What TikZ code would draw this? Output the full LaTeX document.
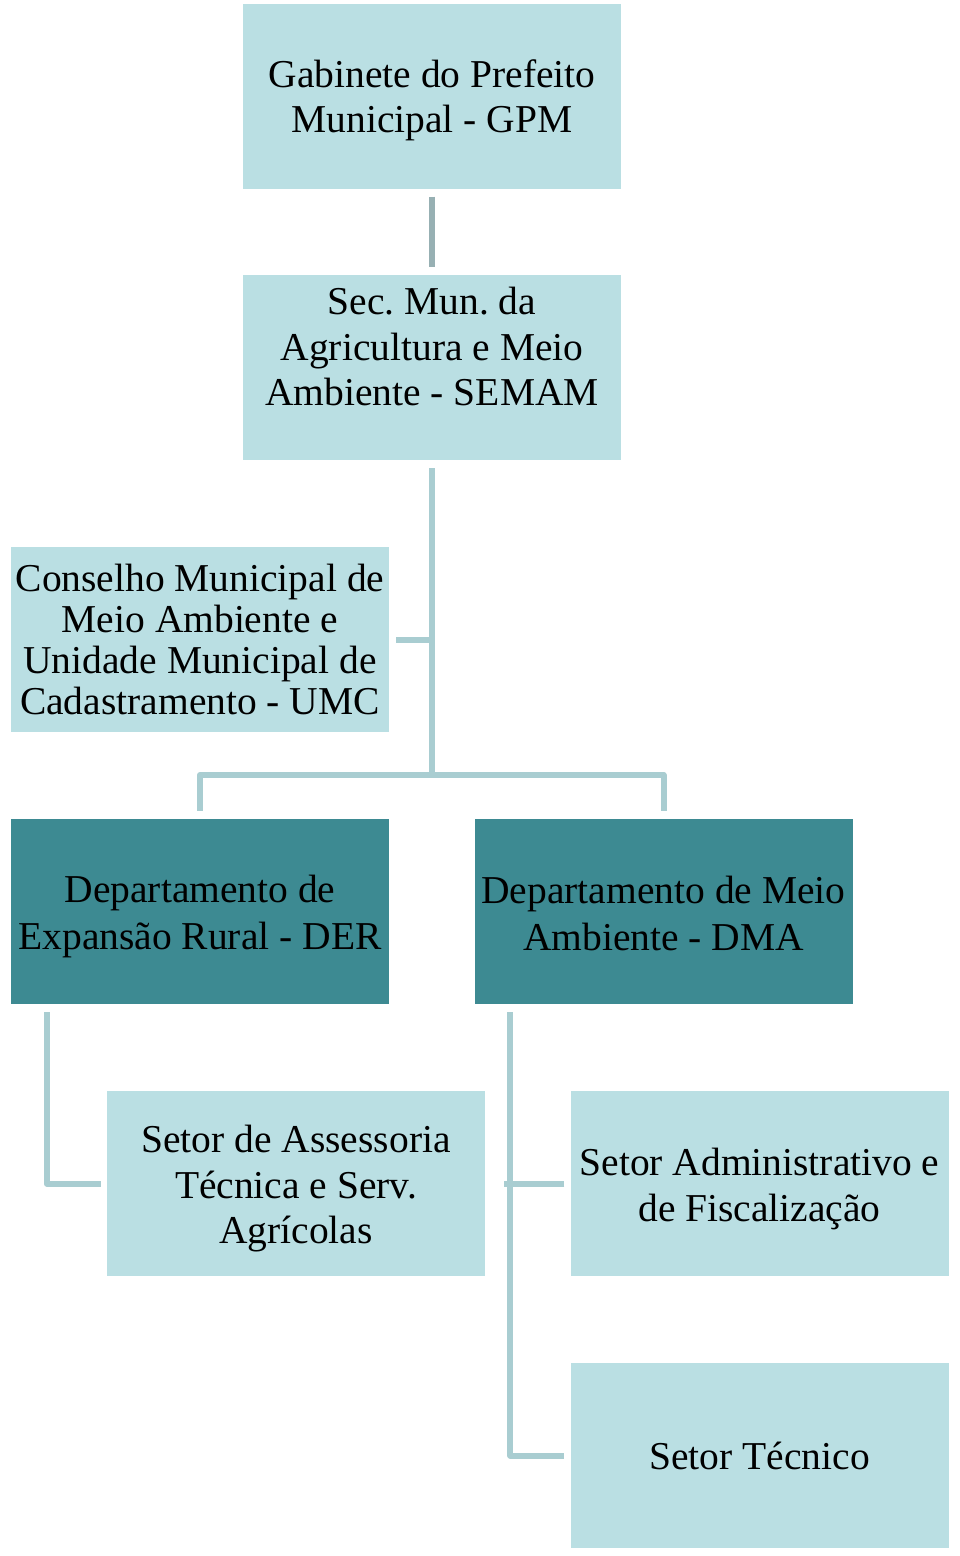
\documentclass[tikz,border=0pt]{standalone}
\usepackage{fontspec}
\setmainfont{Liberation Serif}
\frenchspacing
\definecolor{lightbox}{HTML}{BADFE3}
\definecolor{darkbox}{HTML}{3D8A92}
\definecolor{topline}{HTML}{97B0B3}
\definecolor{linecol}{HTML}{A9CDD1}
\begin{document}
\begin{tikzpicture}[x=1pt,y=-1pt,
  box/.style={draw=none, minimum width=378pt, minimum height=185pt, inner sep=0pt},
  lbox/.style={box, fill=lightbox},
  dbox/.style={box, fill=darkbox},
  txt/.style={inner sep=0pt, align=center, font=\fontsize{39.5}{45.5}\selectfont, text=black},
  conn/.style={draw=linecol, line width=6pt, line join=round},
  topconn/.style={draw=topline, line width=6pt}]
\useasboundingbox[fill=white] (0,0) rectangle (960,1556);
\node[lbox] (gpm) at (432,96) {};
\node[lbox] (semam) at (432,367.5) {};
\node[lbox] (umc) at (200,639.5) {};
\node[dbox] (der) at (200,911.5) {};
\node[dbox] (dma) at (663.5,911.5) {};
\node[lbox] (ass) at (296,1183.5) {};
\node[lbox] (adm) at (759.5,1183.5) {};
\node[lbox] (tec) at (759.5,1455.5) {};
\node[txt] (gpmt) at ([yshift=-4.5pt]gpm.center) {Gabinete do Prefeito\\Municipal - GPM};
\node[txt] (semamt) at ([yshift=21pt]semam.center) {Sec. Mun. da\\Agricultura e Meio\\Ambiente - SEMAM};
\node[txt, font=\fontsize{39.5}{41}\selectfont] (umct) at (umc.center) {Conselho Municipal de\\Meio Ambiente e\\Unidade Municipal de\\Cadastramento - UMC};
\node[txt, font=\fontsize{39.5}{47}\selectfont] (dert) at ([yshift=-5pt]der.center) {Departamento de\\Expansão Rural - DER};
\node[txt, font=\fontsize{39.5}{47}\selectfont] (dmat) at ([yshift=-2pt]dma.center) {Departamento de Meio\\Ambiente - DMA};
\node[txt] (asst) at ([yshift=-5.5pt]ass.center) {Setor de Assessoria\\Técnica e Serv.\\Agrícolas};
\node[txt] (admt) at ([yshift=-5.5pt]adm.center) {Setor Administrativo e\\de Fiscalização};
\node[txt] (tect) at (tec.center) {Setor Técnico};
\coordinate (hub) at (432,775);
\coordinate (derline) at ([xshift=36pt,yshift=-8pt]der.south west);
\coordinate (dmaline) at ([xshift=36pt,yshift=-8pt]dma.south west);
\draw[topconn, shorten <=8pt, shorten >=8pt] (gpm) -- (semam);
\draw[conn, shorten <=8pt] (semam.south) -- (hub);
\draw[conn, shorten <=7pt] (umc.east) -- (umc.east -| hub);
\draw[conn, shorten <=8pt, shorten >=8pt] (der.north) |- (hub) -| (dma.north);
\draw[conn] (derline) |- ([xshift=-6pt]ass.west);
\draw[conn] (dmaline) |- ([xshift=-6pt]tec.west);
\draw[conn] ([xshift=-6pt]adm.west) -- ([xshift=-6pt]adm.west -| dmaline);
\end{tikzpicture}
\end{document}
